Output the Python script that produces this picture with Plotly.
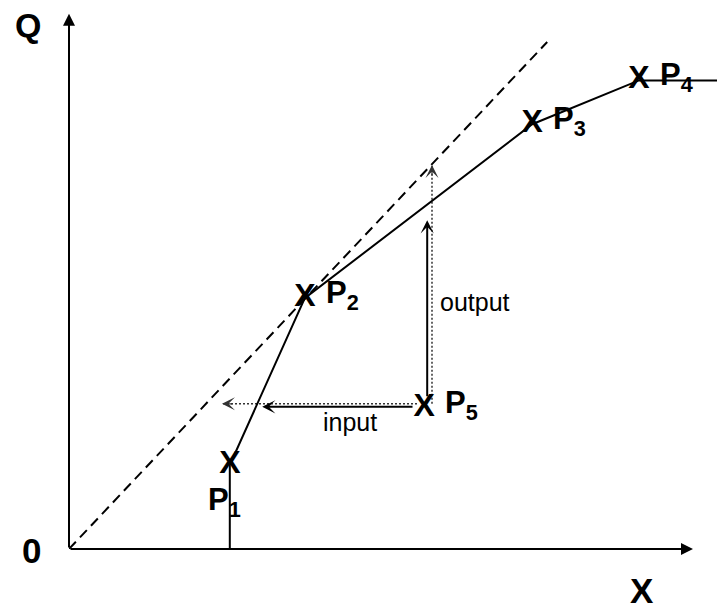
import plotly.graph_objects as go

# ---- data (arbitrary units, origin at 0,0) ----
curve_x = [2.68, 2.68, 3.93, 7.72, 9.50, 10.85]
curve_y = [0.00, 1.40, 4.18, 7.08, 7.81, 7.81]

diag_x = [0.0, 7.97]
diag_y = [0.0, 8.45]

point_names = ["P<sub>1</sub>", "P<sub>2</sub>", "P<sub>3</sub>", "P<sub>4</sub>", "P<sub>5</sub>"]
point_x = [2.68, 3.93, 7.72, 9.50, 5.92]
point_y = [1.40, 4.18, 7.08, 7.81, 2.35]

input_x = [5.75, 3.22]
input_y = [2.37, 2.37]
input_guide_x = [5.80, 2.55]
input_guide_y = [2.42, 2.42]

output_x = [5.97, 5.97]
output_y = [2.52, 5.48]
output_guide_x = [6.05, 6.05]
output_guide_y = [2.42, 6.40]

axis_x_max = 10.40
axis_y_max = 8.92
x_range = [0, 10.8]
y_range = [0, 9.15]

FONT = "Liberation Sans, Arial, sans-serif"

fig = go.Figure()

# diagonal dashed line
fig.add_trace(go.Scatter(x=diag_x, y=diag_y, mode="lines",
                         line=dict(color="black", width=2, dash="10px,6px"),
                         hoverinfo="skip", showlegend=False))
# dotted guides
fig.add_trace(go.Scatter(x=input_guide_x, y=input_guide_y, mode="lines",
                         line=dict(color="#333", width=1.5, dash="2px,2px"),
                         hoverinfo="skip", showlegend=False))
fig.add_trace(go.Scatter(x=output_guide_x, y=output_guide_y, mode="lines",
                         line=dict(color="#333", width=1.5, dash="2px,2px"),
                         hoverinfo="skip", showlegend=False))
# main curve
fig.add_trace(go.Scatter(x=curve_x, y=curve_y, mode="lines",
                         line=dict(color="black", width=2),
                         hoverinfo="skip", showlegend=False))
# X marks at points
fig.add_trace(go.Scatter(x=point_x, y=point_y, mode="text",
                         text=["X"] * len(point_x), textposition="middle center",
                         textfont=dict(family=FONT, size=32, color="black", weight="bold"),
                         hoverinfo="skip", showlegend=False, cliponaxis=False))

ann = []
# axes with arrowheads
ann.append(dict(x=0, y=axis_y_max, ax=0, ay=0, xref="x", yref="y", axref="x", ayref="y",
                showarrow=True, arrowhead=2, arrowsize=1.2, arrowwidth=2, arrowcolor="black", text=""))
ann.append(dict(x=axis_x_max, y=0, ax=0, ay=0, xref="x", yref="y", axref="x", ayref="y",
                showarrow=True, arrowhead=2, arrowsize=1.2, arrowwidth=2, arrowcolor="black", text=""))
# solid input/output arrows
ann.append(dict(x=input_x[1], y=input_y[1], ax=input_x[0], ay=input_y[0], xref="x", yref="y",
                axref="x", ayref="y", showarrow=True, arrowhead=3, arrowsize=1.1, arrowwidth=2,
                arrowcolor="black", text=""))
ann.append(dict(x=output_x[1], y=output_y[1], ax=output_x[0], ay=output_y[0], xref="x", yref="y",
                axref="x", ayref="y", showarrow=True, arrowhead=3, arrowsize=1.1, arrowwidth=2,
                arrowcolor="black", text=""))
# dotted arrowheads
ann.append(dict(x=input_guide_x[1], y=input_guide_y[1], ax=input_guide_x[1] + 0.2, ay=input_guide_y[1],
                xref="x", yref="y", axref="x", ayref="y", showarrow=True, arrowhead=3, arrowsize=1.8,
                arrowwidth=1.2, arrowcolor="#333", text=""))
ann.append(dict(x=output_guide_x[1], y=output_guide_y[1], ax=output_guide_x[1], ay=output_guide_y[1] - 0.2,
                xref="x", yref="y", axref="x", ayref="y", showarrow=True, arrowhead=3, arrowsize=1.8,
                arrowwidth=1.2, arrowcolor="#333", text=""))

# point labels
for i, (nm, px, py) in enumerate(zip(point_names, point_x, point_y)):
    if i == 0:
        xs, ys = -24, -37
    else:
        xs, ys = 19, 3
    ann.append(dict(x=px, y=py, xref="x", yref="y", text="<b>" + nm + "</b>", showarrow=False,
                    xanchor="left", yanchor="middle", xshift=xs, yshift=ys,
                    font=dict(family=FONT, size=31, color="black")))

# axis labels (paper coords so they sit outside the plotting area)
ann.append(dict(x=-0.064, y=0.9545, xref="paper", yref="paper", text="<b>Q</b>", showarrow=False,
                xanchor="center", yanchor="middle", font=dict(family=FONT, size=34, color="black")))
ann.append(dict(x=-0.0571, y=-0.0036, xref="paper", yref="paper", text="<b>0</b>", showarrow=False,
                xanchor="center", yanchor="middle", font=dict(family=FONT, size=35, color="black")))
ann.append(dict(x=0.8843, y=-0.0765, xref="paper", yref="paper", text="<b>X</b>", showarrow=False,
                xanchor="center", yanchor="middle", font=dict(family=FONT, size=35, color="black")))
# text labels
ann.append(dict(x=4.68, y=2.11, xref="x", yref="y", text="input", showarrow=False,
                xanchor="center", yanchor="middle", font=dict(family=FONT, size=25, color="black")))
ann.append(dict(x=6.77, y=4.11, xref="x", yref="y", text="output", showarrow=False,
                xanchor="center", yanchor="middle", font=dict(family=FONT, size=25, color="black")))

fig.update_layout(
    width=717, height=610,
    margin=dict(l=69, r=0, t=0, b=61),
    paper_bgcolor="white", plot_bgcolor="white",
    xaxis=dict(range=x_range, showgrid=False, zeroline=False, showticklabels=False,
               showline=False, ticks="", fixedrange=True),
    yaxis=dict(range=y_range, showgrid=False, zeroline=False, showticklabels=False,
               showline=False, ticks="", fixedrange=True),
    annotations=ann,
    showlegend=False,
)

fig.write_html(
    "out.html",
    config={"staticPlot": True},
    post_script="document.body.style.margin='0';document.body.style.overflow='hidden';"
                "document.documentElement.style.overflow='hidden';",
)
